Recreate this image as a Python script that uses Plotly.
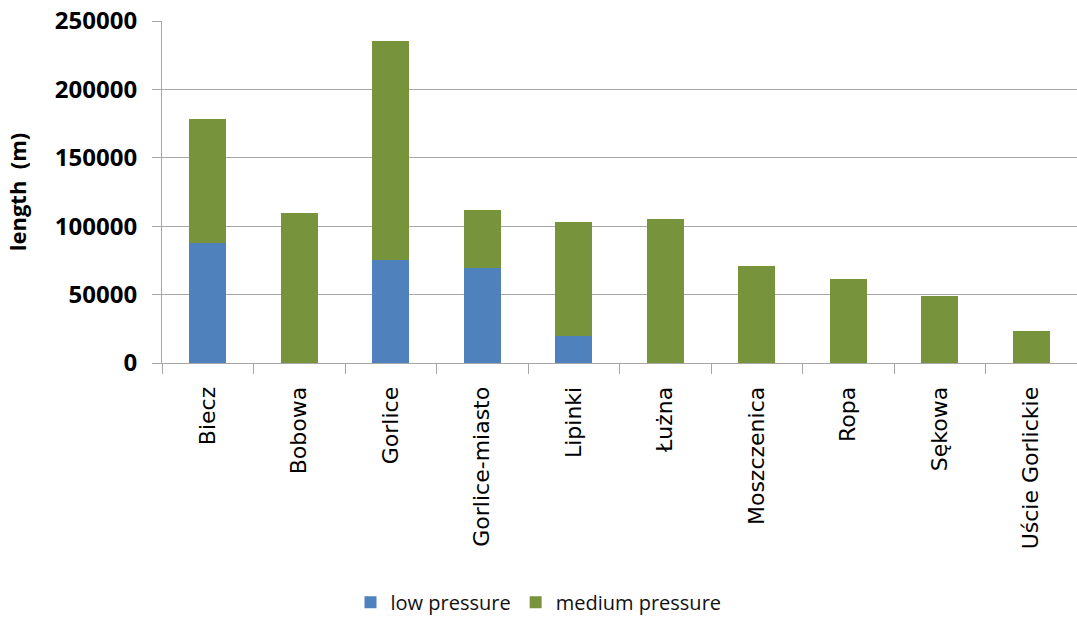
import plotly.graph_objects as go

# Gas network length per commune, split by pressure class
communes = ["Biecz", "Bobowa", "Gorlice", "Gorlice-miasto", "Lipinki", "Łużna",
            "Moszczenica", "Ropa", "Sękowa", "Uście Gorlickie"]
low_pressure = [87700, 0, 75000, 69100, 19600, 0, 0, 0, 0, 0]
medium_pressure = [90400, 109500, 160400, 42800, 83400, 105200, 70600, 61400, 49200, 23200]

y_ticks = [0, 50000, 100000, 150000, 200000, 250000]

BLUE = "#4F81BD"
GREEN = "#77933C"
GRID = "#A6A6A6"

fig = go.Figure()
fig.add_trace(go.Bar(name="low pressure", x=communes, y=low_pressure,
                     marker=dict(color=BLUE, line=dict(width=0))))
fig.add_trace(go.Bar(name="medium pressure", x=communes, y=medium_pressure,
                     marker=dict(color=GREEN, line=dict(width=0))))

fig.update_layout(
    barmode="stack",
    bargap=0.6,
    width=1077, height=617,
    margin=dict(l=162, r=0, t=21, b=253.5),
    paper_bgcolor="white", plot_bgcolor="white",
    showlegend=True,
    legend=dict(orientation="h", xref="container", yref="container",
                x=0.5, xanchor="center", y=0.024, yanchor="middle",
                traceorder="normal",
                font=dict(family="Open Sans", size=20, color="#111", weight=500),
                itemwidth=30, tracegroupgap=0),
    xaxis=dict(
        type="category",
        tickangle=-90,
        tickson="boundaries",
        ticks="outside", ticklen=10, tickcolor=GRID, tickwidth=1,
        showline=True, linecolor=GRID, linewidth=1,
        showgrid=False,
        ticklabelstandoff=14,
        tickfont=dict(family="DejaVu Sans", size=22, color="#000"),
    ),
    yaxis=dict(
        range=[0, 250000],
        tickvals=y_ticks,
        ticktext=[str(v) for v in y_ticks],
        ticks="outside", ticklen=9, tickcolor=GRID, tickwidth=1,
        showline=True, linecolor=GRID, linewidth=1,
        showgrid=True, gridcolor=GRID, gridwidth=1,
        zeroline=False,
        ticklabelstandoff=10,
        tickfont=dict(family="Open Sans", size=24, color="#000", weight=700),
        title=dict(text="length  (m)", standoff=22,
                   font=dict(family="Open Sans", size=22, color="#000", weight=700)),
    ),
)

fig.write_html("out.html")
